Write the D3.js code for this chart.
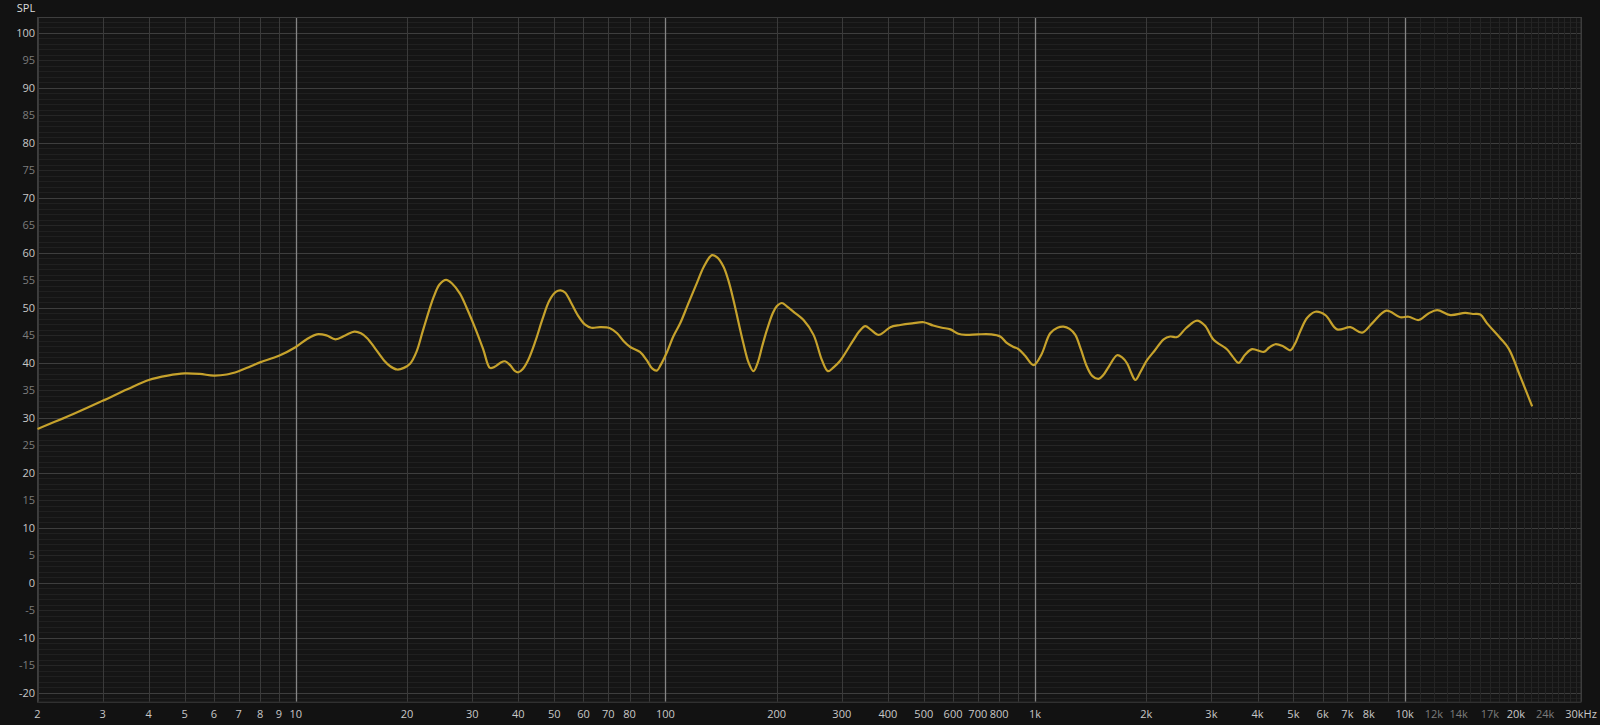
<!DOCTYPE html>
<html><head><meta charset="utf-8">
<script src="https://cdn.jsdelivr.net/npm/d3@7"></script>
<style>
html,body{margin:0;padding:0;background:#121212;overflow:hidden}
svg{display:block}
text{font-family:"Open Sans","Noto Sans",sans-serif}
</style></head><body>
<svg id="c" width="1600" height="725"></svg>
<script>
// Frequency response (Hz) and SPL (dB)
const freqs = [2,2.5,3,3.5,4,4.5,5,5.5,6,6.5,7,7.5,8,9,10,10.7,11.4,12.1,12.8,13.6,14.4,15,15.6,16.4,17.3,18,18.8,19.6,20.4,21.2,22.1,23.6,24.5,25.5,26.5,27.8,29,30.2,31.2,32.2,33.5,34.5,35.7,36.8,38,39.2,40,41,42.5,44.5,46.5,48.5,50.5,52,53.5,55.5,58,60.5,63,66.6,70.8,74,77,80.3,85.3,89,92,94.8,97,101,105,109.6,115,121.6,127,133.6,138,143.6,148,152.8,157.5,162.6,168,173,178,183,188.2,195,200,206.5,213,222.2,236.4,251.6,265.1,275.2,285,297,310,322.8,335,347.3,360,377.4,390,405.8,431.8,465,500,530,560,590,620,650,700,760,805,840,875,902,940,991,1040,1099,1150,1194,1240,1285,1330,1382,1430,1486,1530,1582,1667,1720,1775,1820,1868,1930,2009,2110,2228,2320,2422,2560,2743,2880,3042,3304,3430,3555,3700,3865,4155,4300,4467,4700,4906,5050,5223,5450,5735,6102,6563,7130,7670,8164,8923,9730,10255,10915,11600,12245,13295,14590,15300,16020,16710,18150,19120,20560,22130];
const spl = [28.0,30.7,33.1,35.2,36.9,37.7,38.1,38.0,37.7,37.9,38.5,39.3,40.1,41.3,42.9,44.3,45.2,45.0,44.3,45.0,45.7,45.4,44.5,42.6,40.5,39.4,38.8,39.1,39.9,42.0,46.0,52.0,54.3,55.1,54.4,52.6,50.0,47.2,44.8,42.3,39.1,39.3,40.0,40.3,39.6,38.5,38.3,38.8,40.5,44.0,48.0,51.3,52.9,53.2,52.8,51.0,48.6,47.0,46.4,46.5,46.3,45.4,44.0,42.9,42.0,40.5,39.0,38.6,39.6,42.0,44.8,47.2,50.6,54.5,57.5,59.6,59.2,57.5,55.0,51.4,47.5,43.5,40.0,38.5,40.2,43.2,46.0,49.0,50.3,50.9,50.3,49.3,47.8,45.1,40.5,38.5,39.2,40.4,42.3,44.2,45.8,46.7,46.0,45.1,45.6,46.5,46.9,47.2,47.4,46.8,46.4,46.1,45.3,45.1,45.2,45.2,44.8,43.6,42.9,42.5,41.3,39.6,41.5,45.4,46.4,46.6,46.2,45.1,42.5,39.3,37.6,37.1,37.8,39.3,41.4,41.0,39.9,38.2,36.9,38.4,40.5,42.3,44.3,44.8,44.7,46.3,47.7,46.8,44.2,42.5,41.1,40.0,41.5,42.5,42.0,42.8,43.4,43.0,42.3,43.5,45.8,48.2,49.3,48.7,46.1,46.5,45.5,47.2,49.5,48.3,48.4,47.8,49.0,49.6,48.7,49.1,48.9,48.8,47.2,44.5,42.6,37.5,32.1];

const xTickValues = [2,3,4,5,6,7,8,9,10,20,30,40,50,60,70,80,90,100,200,300,400,500,600,700,800,900,1000,2000,3000,4000,5000,6000,7000,8000,9000,10000,20000,30000];
const xLabelValues = [2,3,4,5,6,7,8,9,10,20,30,40,50,60,70,80,100,200,300,400,500,600,700,800,1000,2000,3000,4000,5000,6000,7000,8000,10000,12000,14000,17000,20000,24000,30000];
const xLabelText = ["2","3","4","5","6","7","8","9","10","20","30","40","50","60","70","80","100","200","300","400","500","600","700","800","1k","2k","3k","4k","5k","6k","7k","8k","10k","12k","14k","17k","20k","24k","30kHz"];
const xDimLabels = ["12k","14k","17k","24k"];
const xFineTicks = [11000,12000,13000,14000,15000,16000,17000,18000,19000,21000,22000,23000,24000,25000,26000,27000,28000,29000];
const yLabelValues = [100,95,90,85,80,75,70,65,60,55,50,45,40,35,30,25,20,15,10,5,0,-5,-10,-15,-20];
const decades = [10,100,1000,10000];

const L=37.5, R=1581, T=17, B=701.7;
const x = d3.scaleLog().domain([2,30000]).range([L,R]);
const y = d3.scaleLinear().domain([-21.6,102.9]).range([B,T]);

const svg = d3.select("#c");
svg.append("rect").attr("x",L).attr("y",T).attr("width",R-L).attr("height",B-T).attr("fill","#151515");

const g = svg.append("g");
g.selectAll(".hm").data(d3.range(-21,103)).enter().append("line")
  .attr("x1",L).attr("x2",R).attr("y1",d=>Math.round(y(d))+0.5).attr("y2",d=>Math.round(y(d))+0.5)
  .attr("stroke",d=> d%10===0 ? "#3e3e3e" : (d%5===0 ? "#262626" : "#202020")).attr("stroke-width",1);
g.selectAll(".vf").data(xFineTicks).enter().append("line")
  .attr("x1",d=>Math.round(x(d))+0.5).attr("x2",d=>Math.round(x(d))+0.5).attr("y1",T).attr("y2",B)
  .attr("stroke","#242424");
g.selectAll(".vm").data(xTickValues).enter().append("line")
  .attr("x1",d=>Math.round(x(d))+0.5).attr("x2",d=>Math.round(x(d))+0.5).attr("y1",T).attr("y2",B)
  .attr("stroke",d=> decades.includes(d) ? "#858585" : "#3a3a3a").attr("stroke-width",d=>decades.includes(d)?1.3:1);
svg.append("rect").attr("x",L).attr("y",T+0.5).attr("width",R-L).attr("height",B-T).attr("fill","none").attr("stroke","#3e3e3e");

svg.selectAll(".yl").data(yLabelValues).enter().append("text")
  .attr("x",35).attr("y",d=>y(d)).attr("dy","0.35em").attr("text-anchor","end")
  .attr("font-size",11).attr("fill",d=> d%10===0 ? "#c8c8c8" : "#7c7c7c").text(d=>d);
svg.selectAll(".xl").data(xLabelValues).enter().append("text")
  .attr("x",d=>x(d)).attr("y",714).attr("dy","0.35em").attr("text-anchor","middle")
  .attr("font-size",11).attr("fill",(d,i)=> xDimLabels.includes(xLabelText[i]) ? "#7c7c7c" : "#c8c8c8")
  .text((d,i)=>xLabelText[i]);
svg.append("text").attr("x",26).attr("y",8).attr("dy","0.35em").attr("text-anchor","middle")
  .attr("font-size",11).attr("fill","#dcdcdc").text("SPL");

const data = freqs.map((f,i)=>({f, v:spl[i]}));
const line = d3.line().x(d=>x(d.f)).y(d=>y(d.v)).curve(d3.curveCatmullRom.alpha(0.5));
svg.append("path").datum(data).attr("d",line).attr("fill","none")
  .attr("stroke","#c6a22c").attr("stroke-width",2.2).attr("stroke-linejoin","round");
</script>
</body></html>
